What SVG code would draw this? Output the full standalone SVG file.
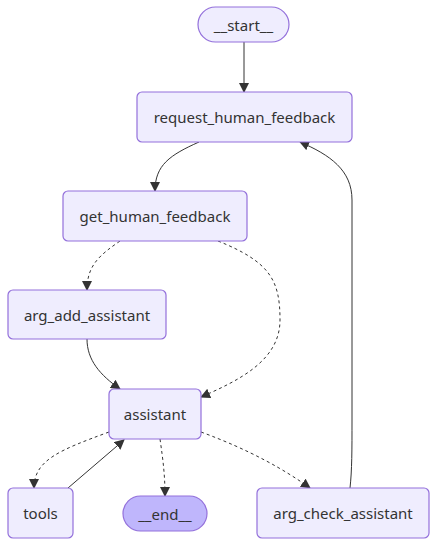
<svg xmlns="http://www.w3.org/2000/svg" width="438" height="546" viewBox="0 0 438 546">
<defs>
<marker id="arrow" viewBox="0 0 10 10" refX="9" refY="5" markerWidth="10" markerHeight="10" markerUnits="userSpaceOnUse" orient="auto">
<path d="M0,0 L10,5 L0,10 z" fill="#333333"/>
</marker>
<style>
.node rect{fill:#EFEDFE;stroke:#9370DB;stroke-width:1.2}
.node.endn rect{fill:#BFB6FC}
.node text{font-family:"Noto Sans","DejaVu Sans",sans-serif;font-size:15px;fill:#333333;text-anchor:middle;dominant-baseline:central}
.edge{fill:none;stroke:#333333;stroke-width:1;marker-end:url(#arrow)}
.dot{stroke-dasharray:3 3}
</style>
</defs>
<rect width="438" height="546" fill="#ffffff"/>
<g id="edges">
<path class="edge" d="M244,42 L244,92"/>
<path class="edge" d="M199,142 C170,155 155,165 155,191"/>
<path class="edge" d="M350,488 C352,470 352,450 352,420 L352,200 C352,170 330,155 300,142"/>
<path class="edge dot" d="M120,241 C100,255 87,265 87,290"/>
<path class="edge dot" d="M218,241 C270,262 280,280 280,320 C280,360 240,380 201,397"/>
<path class="edge" d="M87,339 C87,360 100,375 120,389"/>
<path class="edge dot" d="M109,432 C60,450 34,460 34,488"/>
<path class="edge" d="M68,488 L124,440"/>
<path class="edge dot" d="M160,439 C163,460 165,475 165,496"/>
<path class="edge dot" d="M201,432 C250,450 285,470 310,488"/>
</g>
<g id="start" class="node"><rect x="198" y="7" width="91" height="35" rx="17.5"/><text x="243.5" y="24.5">__start__</text></g>
<g id="request_human_feedback" class="node"><rect x="137" y="92" width="215" height="50" rx="5"/><text x="244.5" y="117">request_human_feedback</text></g>
<g id="get_human_feedback" class="node"><rect x="63" y="191" width="184" height="50" rx="5"/><text x="155" y="216">get_human_feedback</text></g>
<g id="arg_add_assistant" class="node"><rect x="8" y="290" width="158" height="49" rx="5"/><text x="87" y="314.5">arg_add_assistant</text></g>
<g id="assistant" class="node"><rect x="109" y="389" width="92" height="50" rx="5"/><text x="155" y="414">assistant</text></g>
<g id="tools" class="node"><rect x="8" y="488" width="65" height="50" rx="5"/><text x="40.5" y="513">tools</text></g>
<g id="end" class="node endn"><rect x="123" y="496" width="84" height="35" rx="17.5"/><text x="165" y="513.5">__end__</text></g>
<g id="arg_check_assistant" class="node"><rect x="257" y="488" width="172" height="50" rx="5"/><text x="343" y="513">arg_check_assistant</text></g>
</svg>
